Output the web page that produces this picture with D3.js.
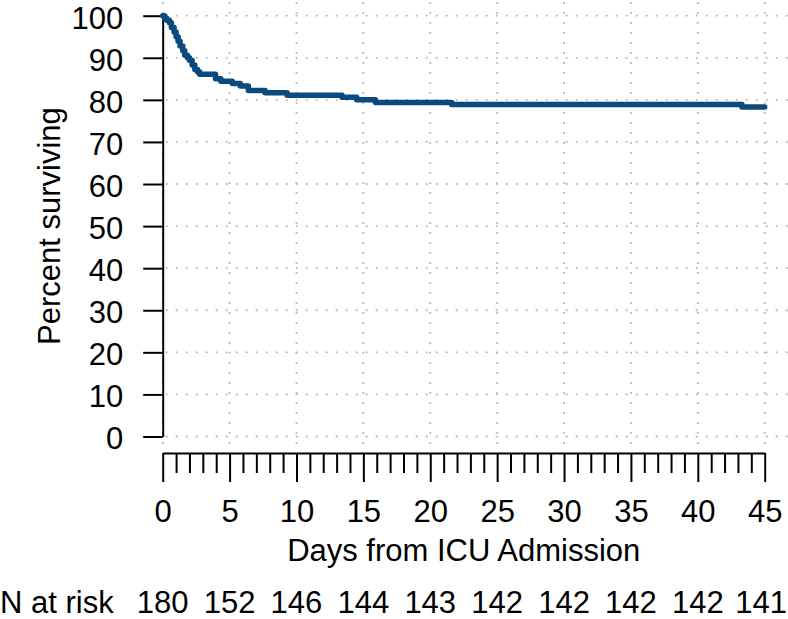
<!DOCTYPE html>
<html lang="en">
<head>
    <meta charset="UTF-8">
    <title>Survival from ICU admission</title>
    <script src="https://d3js.org/d3.v7.min.js"></script>
    <style>
        body { margin: 0; background: #fff; }
        text { font-family: "Liberation Sans", Arial, Helvetica, sans-serif; fill: #000; }
    </style>
</head>
<body>
<div id="chart"></div>
<script>

    // Kaplan-Meier steps (day, percent surviving)
    var days = [0, 0.15, 0.3, 0.5, 0.65, 0.85, 1.0, 1.15, 1.3, 1.5, 1.65, 1.85, 2.0, 2.2, 2.4, 2.6, 2.75,
        3.95, 4.35, 5.2, 5.8, 6.4, 7.65, 9.3, 13.4, 14.5, 15.9, 21.6, 43.3, 45];
    var surviving = [100, 99.4, 98.9, 98.3, 97.2, 96.1, 95.0, 93.9, 92.8, 91.7, 90.6, 90.0, 89.4, 88.3, 87.2, 86.7, 86.1,
        85.0, 84.4, 83.9, 83.3, 82.2, 81.7, 81.1, 80.6, 80.0, 79.4, 78.9, 78.3, 78.3];

    // axis ticks
    var yTicks = [0, 10, 20, 30, 40, 50, 60, 70, 80, 90, 100];
    var xTicks = [0, 5, 10, 15, 20, 25, 30, 35, 40, 45];
    var xMinor = [1, 2, 3, 4, 6, 7, 8, 9, 11, 12, 13, 14, 16, 17, 18, 19, 21, 22, 23, 24,
        26, 27, 28, 29, 31, 32, 33, 34, 36, 37, 38, 39, 41, 42, 43, 44];

    // number at risk table
    var riskDays = [0, 5, 10, 15, 20, 25, 30, 35, 40, 45];
    var atRisk = [180, 152, 146, 144, 143, 142, 142, 142, 142, 141];

    var width = 788, height = 619;
    var fontSize = 31;

    var svg = d3.select("#chart")
        .append("svg")
        .attr("width", width)
        .attr("height", height);

    var x = d3.scaleLinear().domain([0, 45]).range([162.7, 764.7]);
    var y = d3.scaleLinear().domain([0, 100]).range([436.5, 15.7]);

    // dotted grid
    var grid = svg.append("g")
        .attr("stroke", "#bdbdbd")
        .attr("stroke-width", 1.8)
        .attr("stroke-dasharray", "2,8");
    grid.selectAll(".vg")
        .data(xTicks)
        .enter().append("line")
        .attr("x1", function (d) { return x(d); })
        .attr("x2", function (d) { return x(d); })
        .attr("y1", 2)
        .attr("y2", 449);
    grid.selectAll(".hg")
        .data(yTicks)
        .enter().append("line")
        .attr("x1", x(0) + 3)
        .attr("x2", 790)
        .attr("y1", function (d) { return y(d); })
        .attr("y2", function (d) { return y(d); });

    // Y axis
    var yAxis = svg.append("g")
        .attr("transform", "translate(" + x(0) + ",0)")
        .call(d3.axisLeft(y).tickValues(yTicks).tickSize(19.5).tickSizeOuter(0).tickPadding(20));
    yAxis.selectAll("path, line").attr("stroke", "#000").attr("stroke-width", 2);
    yAxis.selectAll(".tick text").attr("dy", "0.4em");

    // X axis (detached, below the plot)
    var xAxis = svg.append("g")
        .attr("transform", "translate(0,453)")
        .call(d3.axisBottom(x).tickValues(xTicks).tickSize(29).tickSizeOuter(0).tickPadding(18));
    xAxis.selectAll("path, line").attr("stroke", "#000").attr("stroke-width", 2);

    var xMinorAxis = svg.append("g")
        .attr("transform", "translate(0,453)")
        .call(d3.axisBottom(x).tickValues(xMinor).tickSize(20).tickFormat(""));
    xMinorAxis.select(".domain").remove();
    xMinorAxis.selectAll("line").attr("stroke", "#000").attr("stroke-width", 2);

    svg.selectAll(".tick text")
        .attr("font-family", "Liberation Sans, Arial, sans-serif")
        .attr("font-size", fontSize)
        .attr("fill", "#000");

    // survival curve
    var pts = days.map(function (d, i) { return [d, surviving[i]]; });
    svg.append("path")
        .datum(pts)
        .attr("fill", "none")
        .attr("stroke", "#0b4a7e")
        .attr("stroke-width", 5.5)
        .attr("stroke-linecap", "round")
        .attr("stroke-linejoin", "round")
        .attr("d", d3.line()
            .curve(d3.curveStepAfter)
            .x(function (d) { return x(d[0]); })
            .y(function (d) { return y(d[1]); }));

    // axis titles
    svg.append("text")
        .attr("transform", "translate(60," + ((y(0) + y(100)) / 2) + ") rotate(-90)")
        .attr("text-anchor", "middle")
        .attr("font-size", fontSize)
        .text("Percent surviving");

    svg.append("text")
        .attr("x", (x(0) + x(45)) / 2)
        .attr("y", 561)
        .attr("text-anchor", "middle")
        .attr("font-size", fontSize)
        .text("Days from ICU Admission");

    // N at risk row
    svg.append("text")
        .attr("x", 0)
        .attr("y", 613)
        .attr("font-size", fontSize)
        .text("N at risk");

    svg.selectAll(".risk")
        .data(riskDays)
        .enter().append("text")
        .attr("class", "risk")
        .attr("x", function (d) { return x(d); })
        .attr("y", 613)
        .attr("text-anchor", "middle")
        .attr("font-size", fontSize)
        .text(function (d, i) { return atRisk[i]; })
        .each(function () {
            // keep the last count inside the page
            var b = this.getBBox();
            if (b.x + b.width > width - 1) {
                d3.select(this).attr("x", +d3.select(this).attr("x") - (b.x + b.width - width + 1));
            }
        });

</script>
</body>
</html>
